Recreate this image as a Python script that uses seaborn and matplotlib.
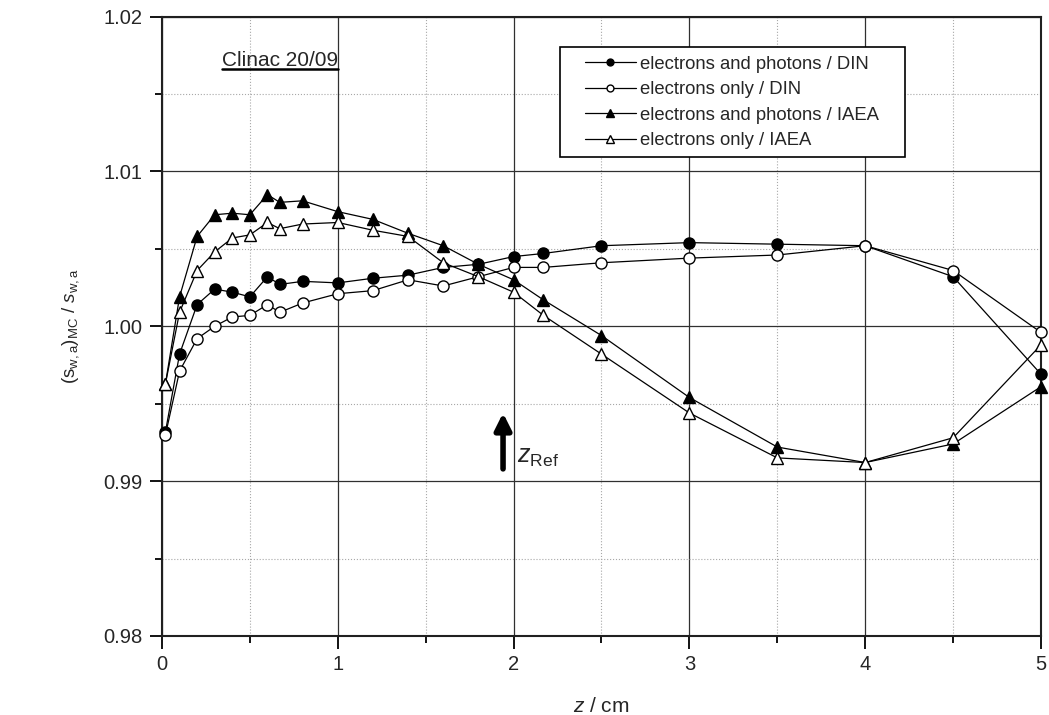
import matplotlib
matplotlib.use("Agg")
import matplotlib.pyplot as plt
import seaborn as sns
import pandas as pd
import numpy as np
from matplotlib.ticker import MultipleLocator, FormatStrFormatter
from matplotlib.lines import Line2D
from matplotlib.legend_handler import HandlerLine2D

# ---- data ----
z_cm = [0.02, 0.1, 0.2, 0.3, 0.4, 0.5, 0.6, 0.67, 0.8, 1.0, 1.2, 1.4, 1.6, 1.8,
        2.0, 2.17, 2.5, 3.0, 3.5, 4.0, 4.5, 5.0]
ep_din = [0.9932, 0.9982, 1.0014, 1.0024, 1.0022, 1.0019, 1.0032, 1.0027, 1.0029,
          1.0028, 1.0031, 1.0033, 1.0038, 1.0040, 1.0045, 1.0047, 1.0052, 1.0054,
          1.0053, 1.0052, 1.0032, 0.9969]
e_din = [0.9930, 0.9971, 0.9992, 1.0000, 1.0006, 1.0007, 1.0014, 1.0009, 1.0015,
         1.0021, 1.0023, 1.0030, 1.0026, 1.0032, 1.0038, 1.0038, 1.0041, 1.0044,
         1.0046, 1.0052, 1.0036, 0.9996]
ep_iaea = [0.9963, 1.0019, 1.0058, 1.0072, 1.0073, 1.0072, 1.0085, 1.0080, 1.0081,
           1.0074, 1.0069, 1.0060, 1.0052, 1.0040, 1.0030, 1.0017, 0.9994, 0.9954,
           0.9922, 0.9912, 0.9924, 0.9961]
e_iaea = [0.9963, 1.0009, 1.0036, 1.0048, 1.0057, 1.0059, 1.0067, 1.0063, 1.0066,
          1.0067, 1.0062, 1.0058, 1.0041, 1.0032, 1.0022, 1.0007, 0.9982, 0.9944,
          0.9915, 0.9912, 0.9928, 0.9988]
series_labels = ["electrons and photons / DIN", "electrons only / DIN",
                 "electrons and photons / IAEA", "electrons only / IAEA"]
x_ticks = [0, 1, 2, 3, 4, 5]
y_ticks = [0.98, 0.99, 1.00, 1.01, 1.02]
z_ref = 1.94
title_text = "Clinac 20/09"

sns.set_theme(style="white")
plt.rcParams['font.family'] = ['Liberation Sans', 'DejaVu Sans']
plt.rcParams['mathtext.fontset'] = 'custom'
plt.rcParams['mathtext.rm'] = 'Liberation Sans'
plt.rcParams['mathtext.it'] = 'Liberation Sans:italic'
plt.rcParams['mathtext.bf'] = 'Liberation Sans:bold'

fig = plt.figure(figsize=(10.49, 7.15), dpi=100)
ax = fig.add_axes([0.1544, 0.1105, 0.8380, 0.8664])

styles = [("o", "black", 8), ("o", "white", 8), ("^", "black", 9), ("^", "white", 9)]
all_series = [ep_din, e_din, ep_iaea, e_iaea]
for vals, lab, (mk, fc, ms) in zip(all_series, series_labels, styles):
    df = pd.DataFrame({"z": z_cm, "v": vals})
    sns.lineplot(data=df, x="z", y="v", ax=ax, color="black", lw=0.9,
                 marker=mk, markersize=ms, markerfacecolor=fc,
                 markeredgecolor="black", markeredgewidth=1.0, label=lab,
                 zorder=3, clip_on=False)

ax.set_xlim(0, 5)
ax.set_ylim(0.98, 1.02)
ax.set_xticks(x_ticks)
ax.set_yticks(y_ticks)
ax.xaxis.set_minor_locator(MultipleLocator(0.5))
ax.yaxis.set_minor_locator(MultipleLocator(0.005))
ax.yaxis.set_major_formatter(FormatStrFormatter('%.2f'))
ax.xaxis.set_major_formatter(FormatStrFormatter('%d'))

ax.grid(which='major', color='#303030', lw=0.9, ls='-', zorder=0)
ax.grid(which='minor', color='#a8a8a8', lw=0.8, ls=':', zorder=0)
ax.set_axisbelow(True)

ax.tick_params(which='major', direction='out', length=9, width=1.3, color='black',
               labelsize=14.5, pad=5, bottom=True, left=True, top=False, right=False)
ax.tick_params(which='minor', direction='out', length=5, width=1.3, color='black',
               bottom=True, left=True, top=False, right=False)
for s in ax.spines.values():
    s.set_color('#202020')
    s.set_linewidth(1.5)

ax.set_xlabel(r'$z$ / cm', fontsize=15, labelpad=16)
ax.set_ylabel(r'(s$_{\mathregular{w,a}}$)$_{\mathregular{MC}}$ / $s_{\mathregular{w,a}}$',
              fontsize=13.5, labelpad=16)

leg = ax.legend(loc='upper left', bbox_to_anchor=(0.4528, 0.9503, 0.3925, 0),
                mode='expand', borderaxespad=0,
                frameon=True, fancybox=False, edgecolor='black', fontsize=13.3,
                handlelength=3.66, markerscale=0.62, labelspacing=0.46,
                borderpad=0.45, handletextpad=0.22,
                handler_map={Line2D: HandlerLine2D(xpad=0.9)})
leg.get_frame().set_linewidth(1.2)
leg.get_frame().set_alpha(1)

# z_Ref arrow
ax.annotate('', xy=(z_ref, 0.99440), xytext=(z_ref, 0.99079),
            arrowprops=dict(arrowstyle='-|>,head_length=0.7,head_width=0.35', lw=4,
                            color='black', mutation_scale=14, shrinkA=0, shrinkB=0))
ax.text(z_ref + 0.08, 0.99079, r'$z_{\mathregular{Ref}}$', fontsize=18, va='bottom', ha='left')

# underlined title
t = ax.text(0.339, 1.0168, title_text, fontsize=15, ha='left', va='baseline')
fig.canvas.draw()
bb = t.get_window_extent()
inv = fig.transFigure.inverted()
(x0, y0), (x1, y1) = inv.transform([(bb.x0, bb.y0), (bb.x1, bb.y0)])
fig.add_artist(Line2D([x0, x1], [y0 + 0.001, y0 + 0.001], color='black', lw=1.8,
                      transform=fig.transFigure))

fig.savefig('out.png', dpi=100)
